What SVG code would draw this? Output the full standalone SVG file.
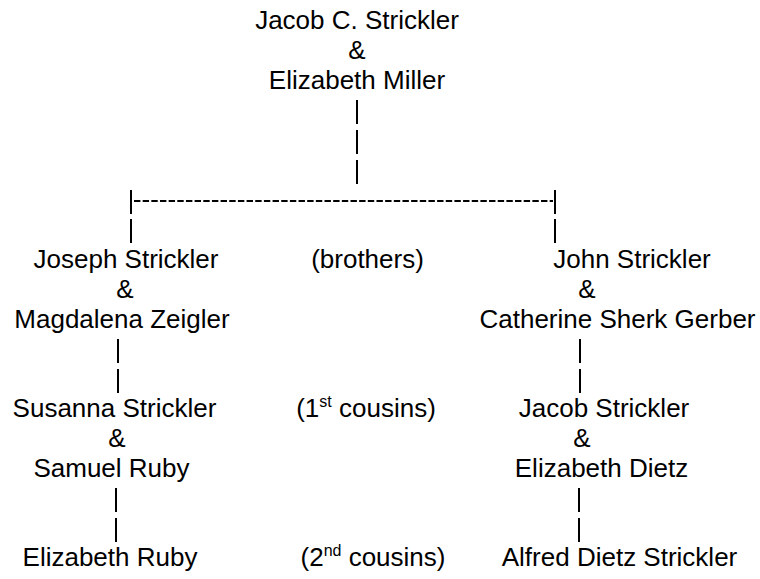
<svg xmlns="http://www.w3.org/2000/svg" width="760" height="579" viewBox="0 0 760 579">
<style>
text{font-family:"Liberation Sans",Arial,sans-serif;font-size:26px;fill:#000;text-anchor:middle}
.sup{font-size:16px}
.c line{stroke:#000;stroke-width:2}
.dash{stroke-dasharray:6.4 2.26}
</style>
<rect width="760" height="579" fill="#fff"/>
<g id="n-jacob-c"><text x="357" y="29">Jacob C. Strickler</text><text x="357" y="59">&amp;</text><text x="357" y="89">Elizabeth Miller</text></g>
<g class="c" id="connectors">
<line x1="357" y1="100" x2="357" y2="124"/>
<line x1="357" y1="130" x2="357" y2="154"/>
<line x1="357" y1="160" x2="357" y2="184"/>
<line x1="131" y1="190" x2="131" y2="214"/>
<line x1="555" y1="190" x2="555" y2="214"/>
<line class="dash" x1="134" y1="201" x2="553" y2="201"/>
<line x1="131" y1="219" x2="131" y2="243"/>
<line x1="555" y1="219" x2="555" y2="243"/>
<line x1="118" y1="339" x2="118" y2="363"/>
<line x1="118" y1="369" x2="118" y2="393"/>
<line x1="580" y1="339" x2="580" y2="363"/>
<line x1="580" y1="369" x2="580" y2="393"/>
<line x1="116" y1="488" x2="116" y2="512"/>
<line x1="116" y1="518" x2="116" y2="542"/>
<line x1="579" y1="488" x2="579" y2="512"/>
<line x1="579" y1="518" x2="579" y2="542"/>
</g>
<g id="n-joseph"><text x="126" y="268">Joseph Strickler</text><text x="125" y="298">&amp;</text><text x="122" y="327.5">Magdalena Zeigler</text></g>
<g id="n-john"><text x="632" y="268">John Strickler</text><text x="587" y="298">&amp;</text><text x="617.5" y="327.5">Catherine Sherk Gerber</text></g>
<g id="l-brothers"><text x="367.5" y="268">(brothers)</text></g>
<g id="n-susanna"><text x="114.5" y="417">Susanna Strickler</text><text x="117" y="447">&amp;</text><text x="111.5" y="477">Samuel Ruby</text></g>
<g id="n-jacob"><text x="604" y="417">Jacob Strickler</text><text x="582" y="447">&amp;</text><text x="601.5" y="477">Elizabeth Dietz</text></g>
<g id="l-1st"><text x="366" y="417">(1<tspan class="sup" dy="-10">st</tspan><tspan dy="10"> cousins)</tspan></text></g>
<g id="n-eliz-ruby"><text x="110" y="566.3">Elizabeth Ruby</text></g>
<g id="l-2nd"><text x="373" y="566.3">(2<tspan class="sup" dy="-10">nd</tspan><tspan dy="10"> cousins)</tspan></text></g>
<g id="n-alfred"><text x="619.5" y="566.3">Alfred Dietz Strickler</text></g>
</svg>
